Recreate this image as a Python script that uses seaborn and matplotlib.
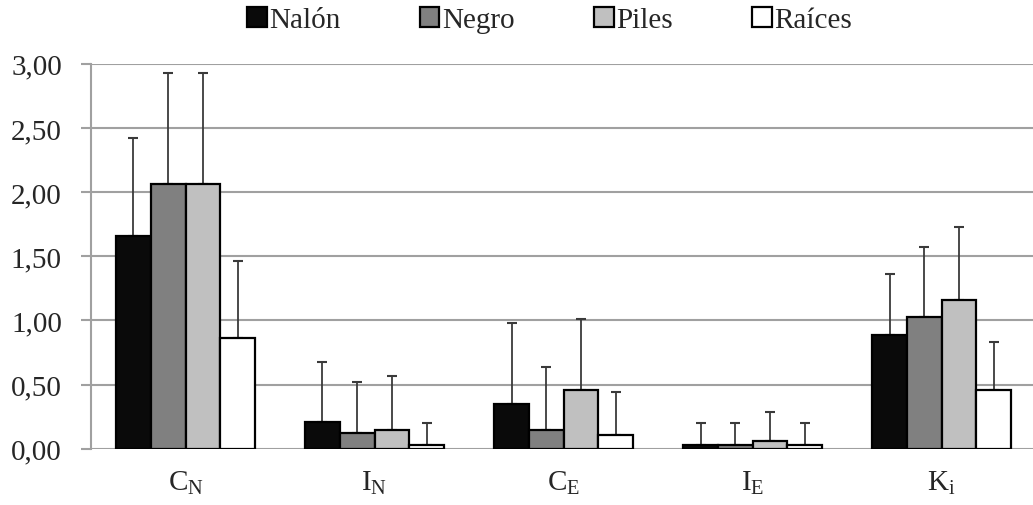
import numpy as np
import pandas as pd
import matplotlib
matplotlib.use("Agg")
import matplotlib.pyplot as plt
import seaborn as sns

# данные
indices = [r"C$_\mathrm{N}$", r"I$_\mathrm{N}$", r"C$_\mathrm{E}$", r"I$_\mathrm{E}$", r"K$_\mathrm{i}$"]
rivers = ["Nalón", "Negro", "Piles", "Raíces"]

nalon = [1.66, 0.21, 0.35, 0.03, 0.89]
negro = [2.06, 0.12, 0.15, 0.03, 1.03]
piles = [2.06, 0.15, 0.46, 0.06, 1.16]
raices = [0.86, 0.03, 0.11, 0.03, 0.46]

nalon_sd = [0.76, 0.47, 0.63, 0.17, 0.47]
negro_sd = [0.87, 0.40, 0.49, 0.17, 0.54]
piles_sd = [0.87, 0.42, 0.55, 0.23, 0.57]
raices_sd = [0.60, 0.17, 0.33, 0.17, 0.37]

colors = ["#0a0a0a", "#808080", "#c0c0c0", "#ffffff"]

df = pd.DataFrame({
    "index": indices * 4,
    "river": np.repeat(rivers, 5),
    "value": nalon + negro + piles + raices,
    "sd": nalon_sd + negro_sd + piles_sd + raices_sd,
})

sns.set_style("white")
plt.rcParams["font.family"] = ["Liberation Serif", "DejaVu Serif"]
plt.rcParams["mathtext.fontset"] = "custom"
plt.rcParams["mathtext.rm"] = "Liberation Serif"

fig = plt.figure(figsize=(10.33, 5.06), dpi=100)
ax = fig.add_axes([0.0881, 0.111, 0.915, 0.761])

sns.barplot(data=df, x="index", y="value", hue="river", palette=colors,
            edgecolor="black", linewidth=1.6, width=0.735, errorbar=None,
            saturation=1, ax=ax, zorder=3)

# планки погрешностей только вверх
for cont, river in zip(ax.containers, rivers):
    sub = df[df["river"] == river]
    xs = [p.get_x() + p.get_width() / 2 for p in cont.patches]
    ax.errorbar(xs, sub["value"], yerr=[np.zeros(len(sub)), sub["sd"]],
                fmt="none", ecolor="#3a3a3a", elinewidth=1.3, capsize=3.5,
                capthick=1.5, zorder=2)

ax.set_xlim(-0.5, len(indices) - 0.5)
ax.set_ylim(0, 3)
ax.set_yticks(np.arange(0, 3.01, 0.5))
ax.set_yticklabels([f"{v:.2f}".replace(".", ",") for v in np.arange(0, 3.01, 0.5)])
ax.yaxis.grid(True, color="#a0a0a0", linewidth=1.5, zorder=0)
ax.set_axisbelow(True)
ax.set_xlabel("")
ax.set_ylabel("")
for s in ["top", "right", "bottom"]:
    ax.spines[s].set_visible(False)
ax.spines["left"].set_color("#a0a0a0")
ax.spines["left"].set_linewidth(1.5)
ax.tick_params(axis="y", labelsize=21, length=7, color="#a0a0a0", width=1.5,
               left=True, pad=14)
ax.tick_params(axis="x", labelsize=21, length=0, pad=14)

handles, labels = ax.get_legend_handles_labels()
ax.legend(handles, labels, loc="center", bbox_to_anchor=(0.532, 0.958),
          bbox_transform=fig.transFigure, ncol=4, frameon=False, fontsize=21,
          handlelength=0.68, handleheight=0.68, handletextpad=0.1, columnspacing=2.7)

plt.savefig("out.png", dpi=100)
